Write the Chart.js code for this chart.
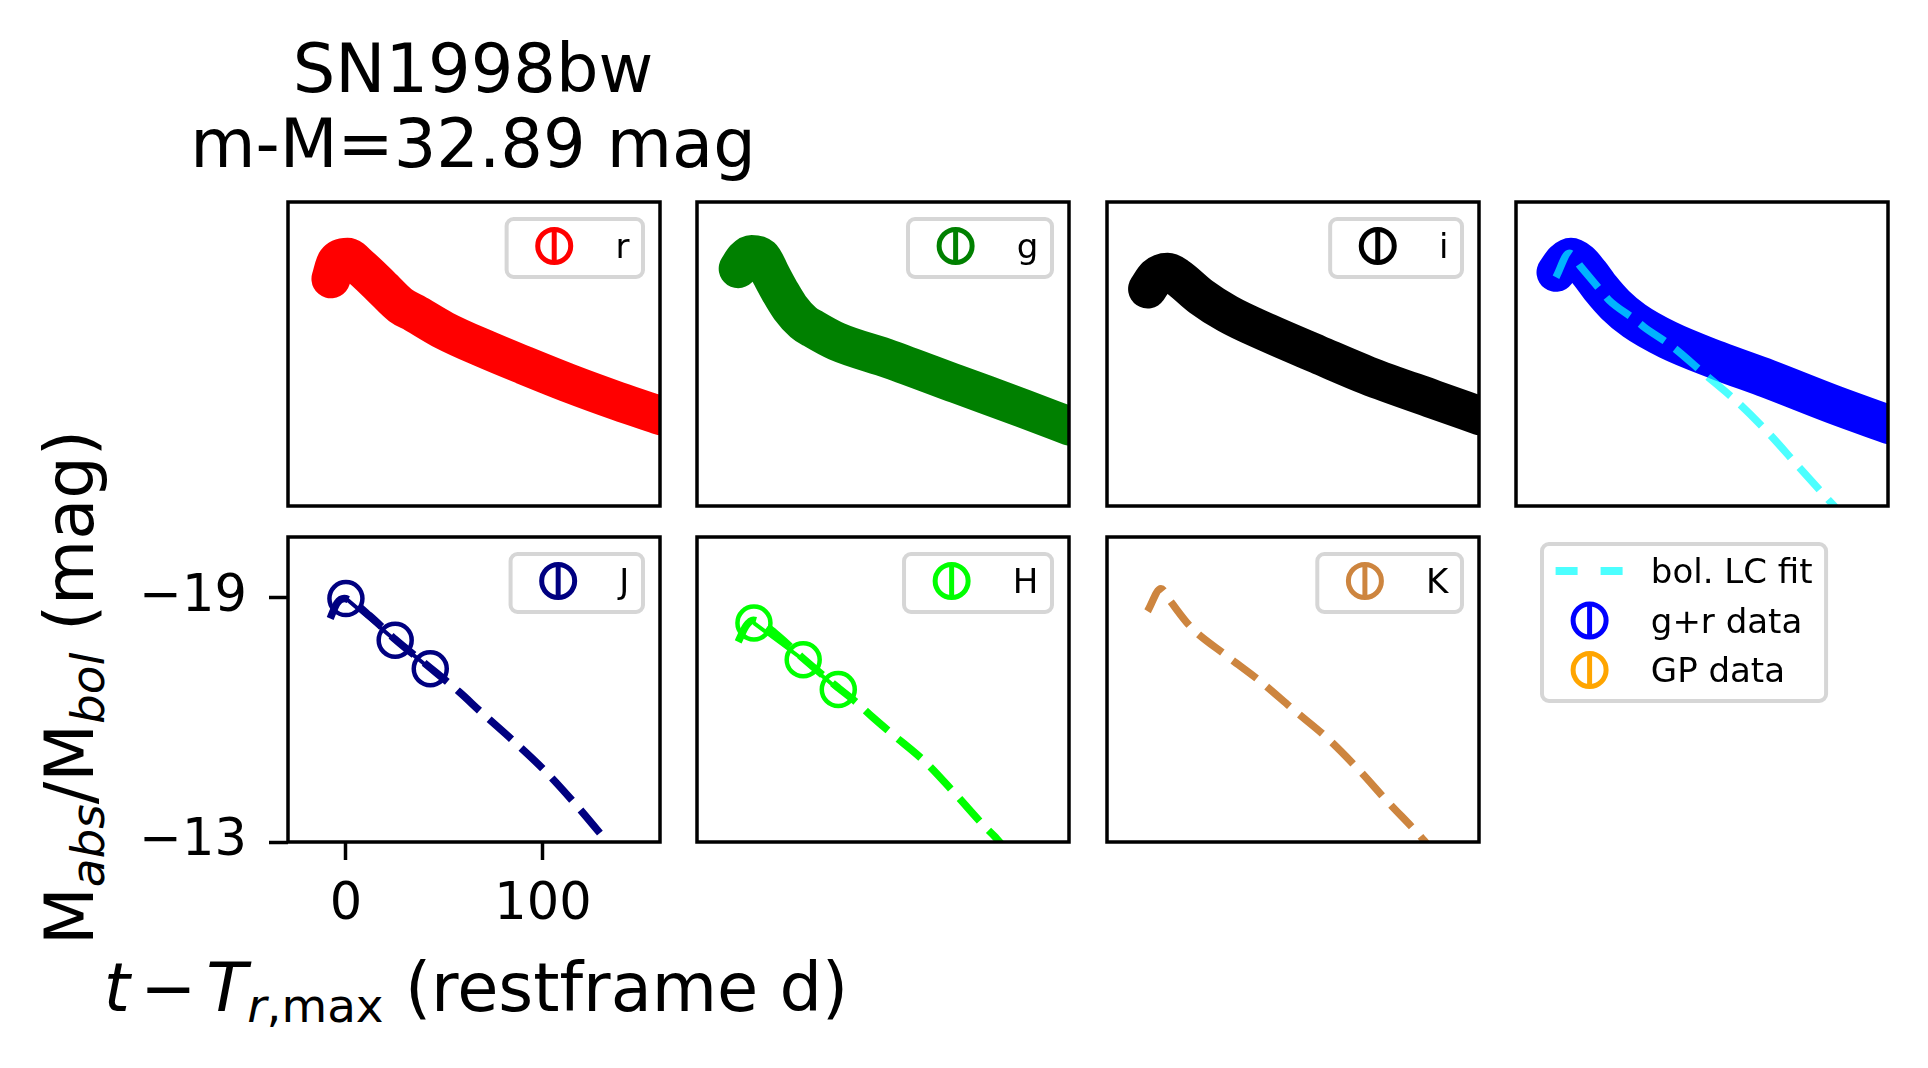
<!DOCTYPE html>
<html>
<head>
<meta charset="utf-8">
<script src="https://cdn.jsdelivr.net/npm/chart.js@4.4.1/dist/chart.umd.min.js"></script>
<style>
html, body { margin: 0; padding: 0; background: #fff; }
body { width: 1928px; height: 1068px; position: relative; overflow: hidden; font-family: "DejaVu Sans", sans-serif; color: #000; }
canvas { position: absolute; }
.txt { position: absolute; white-space: nowrap; line-height: 1; font-size: 67px; }
.txt sub { font-size: 0.7em; vertical-align: -0.24em; line-height: 0; }
.op { margin: 0 0.15em; }
</style>
</head>
<body>
<div class="txt" style="left:-27px; width:1000px; text-align:center; top:36px;">SN1998bw</div>
<div class="txt" style="left:-27px; width:1000px; text-align:center; top:111px;">m-M=32.89 mag</div>
<div class="txt" style="left:-280px; width:700px; text-align:center; top:654px; transform:rotate(-90deg);">M<sub><i>abs</i></sub>/M<sub><i>bol</i></sub> (mag)</div>
<div class="txt" style="left:-24px; width:1000px; text-align:center; top:955px;"><i>t</i><span class="op">&#8722;</span><i>T</i><sub><i>r</i>,max</sub> (restframe d)</div>

<script>
// ----- data (days since r max, absolute mag) -----
const rDays = [-7.6, -5.0, 0.8, 6.8, 17.8, 27.9, 34.7, 49.9, 70.2, 90.5, 114.2, 137.9, 160];
const rMag  = [-18.59, -19.0, -19.12, -18.90, -18.40, -17.93, -17.75, -17.32, -16.87, -16.46, -16.00, -15.58, -15.22];

const gDays = [-8.5, -5.2, -1.7, 3.4, 8.0, 12.7, 17.8, 24.5, 29.6, 41.5, 68.5, 102.4, 136.2, 160];
const gMag  = [-18.84, -19.08, -19.19, -19.12, -18.70, -18.28, -17.88, -17.52, -17.36, -17.05, -16.61, -16.00, -15.40, -14.96];

const iDays = [-8.8, -4.5, 1.4, 6.4, 18.3, 31.8, 52.1, 77.5, 102.9, 136.7, 160];
const iMag  = [-18.34, -18.64, -18.75, -18.63, -18.15, -17.73, -17.26, -16.73, -16.21, -15.62, -15.22];

// g+r bolometric data and bolometric LC fit
const grDays = [-9.1, -5.0, -1.5, 3.0, 8.0, 13.7, 21.0, 30.6, 47.6, 73.0, 98.3, 132.1, 160];
const grMag  = [-18.75, -19.02, -19.12, -19.00, -18.72, -18.35, -17.95, -17.56, -17.09, -16.58, -16.13, -15.49, -15.00];
const bolDays = [-9.1, -2.4, 3.6, 13.7, 17.9, 30.6, 35.7, 49.2, 66.2, 83.1, 99.2, 113.6, 129.6, 133];
const bolMag  = [-18.63, -19.22, -18.88, -18.30, -18.06, -17.60, -17.40, -16.95, -16.25, -15.55, -14.77, -13.99, -13.13, -12.95];

// NIR photometry + fits
const jDays = [0, 25, 42.8];
const jMag  = [-18.97, -17.95, -17.25];
const jFitDays = [-8, -4.5, -0.9, 3, 12, 25, 42.8, 57.5, 68.5, 85.4, 101.5, 116.8, 131.1, 134];
const jFitMag  = [-18.48, -18.86, -18.97, -18.90, -18.55, -17.97, -17.27, -16.68, -16.19, -15.46, -14.72, -13.91, -13.09, -12.92];

const hDays = [-0.5, 24.5, 42.3];
const hMag  = [-18.37, -17.47, -16.74];
const hFitDays = [-8.5, -4.5, -0.8, 3, 12, 24.5, 42.3, 51.6, 60, 69.4, 86.3, 101.5, 116.8, 122, 125];
const hFitMag  = [-17.91, -18.30, -18.44, -18.38, -18.05, -17.50, -16.78, -16.42, -16.05, -15.66, -14.97, -14.19, -13.37, -13.12, -12.95];

const kFitDays = [-8.8, -2, 3, 13.2, 31, 48.7, 65.6, 82.6, 98.6, 113, 129.1, 133];
const kFitMag  = [-18.66, -19.21, -18.89, -18.27, -17.58, -16.93, -16.23, -15.54, -14.76, -13.99, -13.17, -12.95];

const xTicks = [0, 100];
const yTicks = [-19, -13];

// axis limits (shared by all panels)
const X_MIN = -29.4, X_MAX = 159.4;
const Y_MIN = -20.48, Y_MAX = -13;

const CYAN = 'rgba(0,255,255,0.7)';

// panel layout
const colLeft = [288, 697, 1107, 1516];
const rowTop = [202, 537];
const rowH = [304, 305];
const panelW = 372;
const PAD = 4;
const Y_AXIS_W = 158, X_AXIS_H = 98;

Chart.defaults.font.family = '"DejaVu Sans"';
Chart.defaults.color = '#000';

function pts(xs, ys) {
    return xs.map((x, i) => ({ x: x, y: ys[i] }));
}

function fmt(v) {
    return v < 0 ? '\u2212' + Math.abs(v) : String(v);
}

// thick band of dense points
function band(xs, ys, color) {
    return {
        data: pts(xs, ys), borderColor: color, borderWidth: 39, pointRadius: 0,
        borderCapStyle: 'round', borderJoinStyle: 'round', cubicInterpolationMode: 'monotone',
        fill: false, clip: 0, order: 2
    };
}

// dashed model line
function fitLine(xs, ys, color) {
    return {
        data: pts(xs, ys), borderColor: color, borderWidth: 7.5, borderDash: [30, 13], pointRadius: 0,
        cubicInterpolationMode: 'monotone', fill: false, clip: 0, order: 2
    };
}

// open circles joined by a thin line
function dataLine(xs, ys, color) {
    return {
        data: pts(xs, ys), borderColor: color, borderWidth: 4, pointRadius: 16.5, pointBorderWidth: 4.5,
        pointBackgroundColor: 'rgba(0,0,0,0)', pointBorderColor: color, fill: false, clip: 0, order: 1
    };
}

function roundedRect(ctx, x, y, w, h, r) {
    ctx.beginPath();
    ctx.moveTo(x + r, y);
    ctx.lineTo(x + w - r, y);
    ctx.arcTo(x + w, y, x + w, y + r, r);
    ctx.lineTo(x + w, y + h - r);
    ctx.arcTo(x + w, y + h, x + w - r, y + h, r);
    ctx.lineTo(x + r, y + h);
    ctx.arcTo(x, y + h, x, y + h - r, r);
    ctx.lineTo(x, y + r);
    ctx.arcTo(x, y, x + r, y, r);
    ctx.closePath();
}

// matplotlib-like legend box
function drawLegend(ctx, x0, y0, items, alignRight) {
    ctx.save();
    ctx.font = '34px "DejaVu Sans"';
    let textW = 0;
    items.forEach(it => { textW = Math.max(textW, ctx.measureText(it.label).width); });
    const w = 13.6 + 68 + 27.2 + textW + 13.6;
    const h = 58 + (items.length - 1) * 49.5;
    const left = alignRight ? x0 - w : x0;
    const top = y0;
    roundedRect(ctx, left, top, w, h, 7);
    ctx.fillStyle = 'rgba(255,255,255,0.8)';
    ctx.fill();
    ctx.strokeStyle = '#d6d6d6';
    ctx.lineWidth = 4;
    ctx.stroke();

    items.forEach((it, i) => {
        const cy = top + 27 + i * 49.5;
        const hx = left + 13.6 + 34;
        ctx.strokeStyle = it.color;
        if (it.kind === 'dash') {
            ctx.lineWidth = 8;
            ctx.setLineDash([22, 23]);
            ctx.beginPath();
            ctx.moveTo(left + 13.6, cy);
            ctx.lineTo(left + 81.6, cy);
            ctx.stroke();
            ctx.setLineDash([]);
        } else {
            ctx.lineWidth = 5;
            ctx.beginPath();
            ctx.arc(hx, cy, 16.5, 0, Math.PI * 2);
            ctx.stroke();
            ctx.beginPath();
            ctx.moveTo(hx, cy - 17);
            ctx.lineTo(hx, cy + 17);
            ctx.stroke();
        }
        ctx.fillStyle = '#000';
        ctx.textBaseline = 'alphabetic';
        ctx.textAlign = 'left';
        ctx.fillText(it.label, left + 108.8, cy + 12.4);
    });
    ctx.restore();
}

const framePlugin = {
    id: 'frame',
    afterDatasetsDraw(chart, args, opts) {
        if (opts.hide) return;
        const a = chart.chartArea, ctx = chart.ctx;
        ctx.save();
        ctx.strokeStyle = '#000';
        ctx.lineWidth = 3.5;
        ctx.strokeRect(a.left, a.top, a.right - a.left, a.bottom - a.top);
        ctx.restore();
    }
};

const legendPlugin = {
    id: 'boxLegend',
    afterDraw(chart, args, opts) {
        if (!opts.items || !opts.items.length) return;
        const a = chart.chartArea;
        if (opts.free) {
            drawLegend(chart.ctx, a.left + 26, a.top + 7, opts.items, false);
        } else {
            drawLegend(chart.ctx, a.right - 17, a.top + 17, opts.items, true);
        }
    }
};

function makeCanvas(left, top, w, h) {
    const c = document.createElement('canvas');
    c.width = w;
    c.height = h;
    c.style.left = left + 'px';
    c.style.top = top + 'px';
    c.style.width = w + 'px';
    c.style.height = h + 'px';
    document.body.appendChild(c);
    return c;
}

function scalesFor(withAxes) {
    return {
        x: {
            type: 'linear', min: X_MIN, max: X_MAX, display: withAxes,
            afterBuildTicks: s => { s.ticks = xTicks.map(v => ({ value: v })); },
            afterFit: s => {
                s.height = withAxes ? X_AXIS_H : 0;
                s.paddingLeft = 0; s.paddingRight = 0;
            },
            grid: { drawOnChartArea: false, drawTicks: true, tickLength: 18, tickWidth: 3.5, tickColor: '#000' },
            border: { display: false },
            ticks: { font: { size: 51 }, color: '#000', padding: 15, maxRotation: 0, autoSkip: false, callback: fmt }
        },
        y: {
            type: 'linear', min: Y_MIN, max: Y_MAX, reverse: true, display: withAxes,
            afterBuildTicks: s => { s.ticks = yTicks.map(v => ({ value: v })); },
            afterFit: s => {
                s.width = withAxes ? Y_AXIS_W : 0;
                s.paddingTop = 0; s.paddingBottom = 0;
            },
            grid: { drawOnChartArea: false, drawTicks: true, tickLength: 19, tickWidth: 3.5, tickColor: '#000' },
            border: { display: false },
            ticks: { font: { size: 51 }, color: '#000', padding: 22, autoSkip: false, callback: fmt }
        }
    };
}

function makePanel(col, row, datasets, legendItems, withAxes, extra) {
    const left = colLeft[col], top = rowTop[row], h = rowH[row];
    let cx = left - PAD, cy = top - PAD, cw = panelW + 2 * PAD, ch = h + 2 * PAD;
    let padding = PAD;
    if (withAxes) {
        cx = left - Y_AXIS_W;
        cw = panelW + Y_AXIS_W + PAD;
        ch = h + PAD + X_AXIS_H;
        padding = { top: PAD, right: PAD, left: 0, bottom: 0 };
    }
    const canvas = makeCanvas(cx, cy, cw, ch);
    return new Chart(canvas.getContext('2d'), {
        type: 'line',
        data: { datasets: datasets },
        options: {
            responsive: false,
            animation: false,
            devicePixelRatio: 1,
            layout: { padding: padding, autoPadding: false },
            scales: scalesFor(withAxes),
            plugins: {
                legend: { display: false },
                tooltip: { enabled: false },
                frame: { hide: !!(extra && extra.noFrame) },
                boxLegend: { items: legendItems, free: !!(extra && extra.free) }
            }
        },
        plugins: [framePlugin, legendPlugin]
    });
}

// top row: optical bands + bolometric
makePanel(0, 0, [band(rDays, rMag, '#ff0000')], [{ label: 'r', color: '#ff0000', kind: 'err' }], false);
makePanel(1, 0, [band(gDays, gMag, '#008000')], [{ label: 'g', color: '#008000', kind: 'err' }], false);
makePanel(2, 0, [band(iDays, iMag, '#000000')], [{ label: 'i', color: '#000000', kind: 'err' }], false);
const bolFit = fitLine(bolDays, bolMag, CYAN);
bolFit.order = 1;
makePanel(3, 0, [bolFit, band(grDays, grMag, '#0000ff')], [], false);

// bottom row: NIR
makePanel(0, 1, [dataLine(jDays, jMag, '#000080'), fitLine(jFitDays, jFitMag, '#000080')],
    [{ label: 'J', color: '#000080', kind: 'err' }], true);
makePanel(1, 1, [dataLine(hDays, hMag, '#00ff00'), fitLine(hFitDays, hFitMag, '#00ff00')],
    [{ label: 'H', color: '#00ff00', kind: 'err' }], false);
makePanel(2, 1, [fitLine(kFitDays, kFitMag, '#cd853f')],
    [{ label: 'K', color: '#cd853f', kind: 'err' }], false);

// empty cell holding the shared legend
makePanel(3, 1, [], [
    { label: 'bol. LC fit', color: CYAN, kind: 'dash' },
    { label: 'g+r data', color: '#0000ff', kind: 'err' },
    { label: 'GP data', color: '#ffa500', kind: 'err' }
], false, { noFrame: true, free: true });
</script>
</body>
</html>
